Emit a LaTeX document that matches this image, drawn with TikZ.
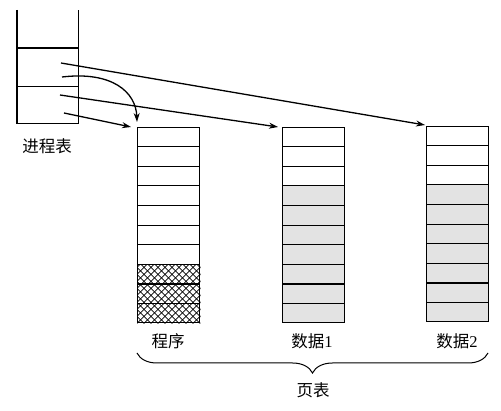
\documentclass[tikz,border=0pt]{standalone}
\usepackage{fontspec}
\setmainfont{Liberation Serif}
\newfontfamily\cjk{Noto Sans CJK SC}
\usetikzlibrary{arrows.meta,calc,decorations.pathreplacing,backgrounds}
\begin{document}
\begin{tikzpicture}[x=1pt,y=-1pt,
  col/.style={draw, line width=1.3pt, minimum width=62pt, minimum height=195pt, inner sep=0pt, anchor=north west},
  rowline/.style={line width=1.2pt},
  arr/.style={-{Stealth[length=9pt,width=6pt]}, line width=1.3pt},
  lab/.style={font=\fontsize{16.5}{18}\selectfont, inner sep=0pt},
  shade/.style={fill=black!11},
  hatch/.style={line width=0.7pt},
]
\useasboundingbox (0,0) rectangle (501,411);

% process table (open at the top)
\node[minimum width=61pt, minimum height=113pt, inner sep=0pt, anchor=north west] (ptab) at (17,10) {};
\draw[line width=1.3pt] (ptab.north west) -- (ptab.south west) -- (ptab.south east) -- (ptab.north east);
\draw[rowline] ($(ptab.north west)!0.336!(ptab.south west)$) -- ($(ptab.north east)!0.336!(ptab.south east)$);
\draw[rowline] ($(ptab.north west)!0.673!(ptab.south west)$) -- ($(ptab.north east)!0.673!(ptab.south east)$);
\node[lab] (ptlab) at (47,146) {\cjk 进程表};

% page tables
\node[col] (prog) at (137,127) {};
\node[col] (d1) at (282,127) {};
\node[col] (d2) at (426,126) {};

\begin{scope}[on background layer]
  \fill[shade] ($(d1.north west)!0.3!(d1.south west)$) rectangle (d1.south east);
  \fill[shade] ($(d2.north west)!0.3!(d2.south west)$) rectangle (d2.south east);
  \begin{scope}
    \clip ($(prog.north west)!0.7!(prog.south west)$) rectangle (prog.south east);
    \foreach \i in {-10,...,20} {
      \draw[hatch] ($(prog.south west)+(\i*7,0)$) -- ++(70,-70);
      \draw[hatch] ($(prog.south west)+(\i*7,0)$) -- ++(-70,-70);
    }
  \end{scope}
\end{scope}

\foreach \c in {prog,d1,d2} {
  \foreach \i in {1,...,9} {
    \draw[rowline] ($(\c.north west)!\i/10!(\c.south west)$) -- ($(\c.north east)!\i/10!(\c.south east)$);
  }
}

\node[lab] (lprog) at (168,341) {\cjk 程序};
\node[lab] (ld1) at (312,341) {{\cjk 数据}1};
\node[lab] (ld2) at (457,341) {{\cjk 数据}2};

\coordinate (bl) at (137,353);
\coordinate (br) at (488,353);
\draw[decorate, decoration={brace, mirror, amplitude=20pt}, line width=1pt] (bl) -- (br);
\node[lab] (ptables) at (313,390) {\cjk 页表};

% arrows from process table entries
\coordinate (a1) at (61,63);
\coordinate (a2) at (62,77);
\coordinate (a3) at (60,95);
\coordinate (a4) at (64,113);
\draw[arr] (a1) -- ([shift={(-1pt,1pt)}]d2.north west);
\draw[arr] (a3) -- ([xshift=-4pt]d1.north west);
\draw[arr] (a4) -- ([xshift=-6pt]prog.north west);
\draw[arr] (a2) .. controls (112,71) and (136,92) .. ([yshift=5pt]prog.north west);
\end{tikzpicture}
\end{document}
